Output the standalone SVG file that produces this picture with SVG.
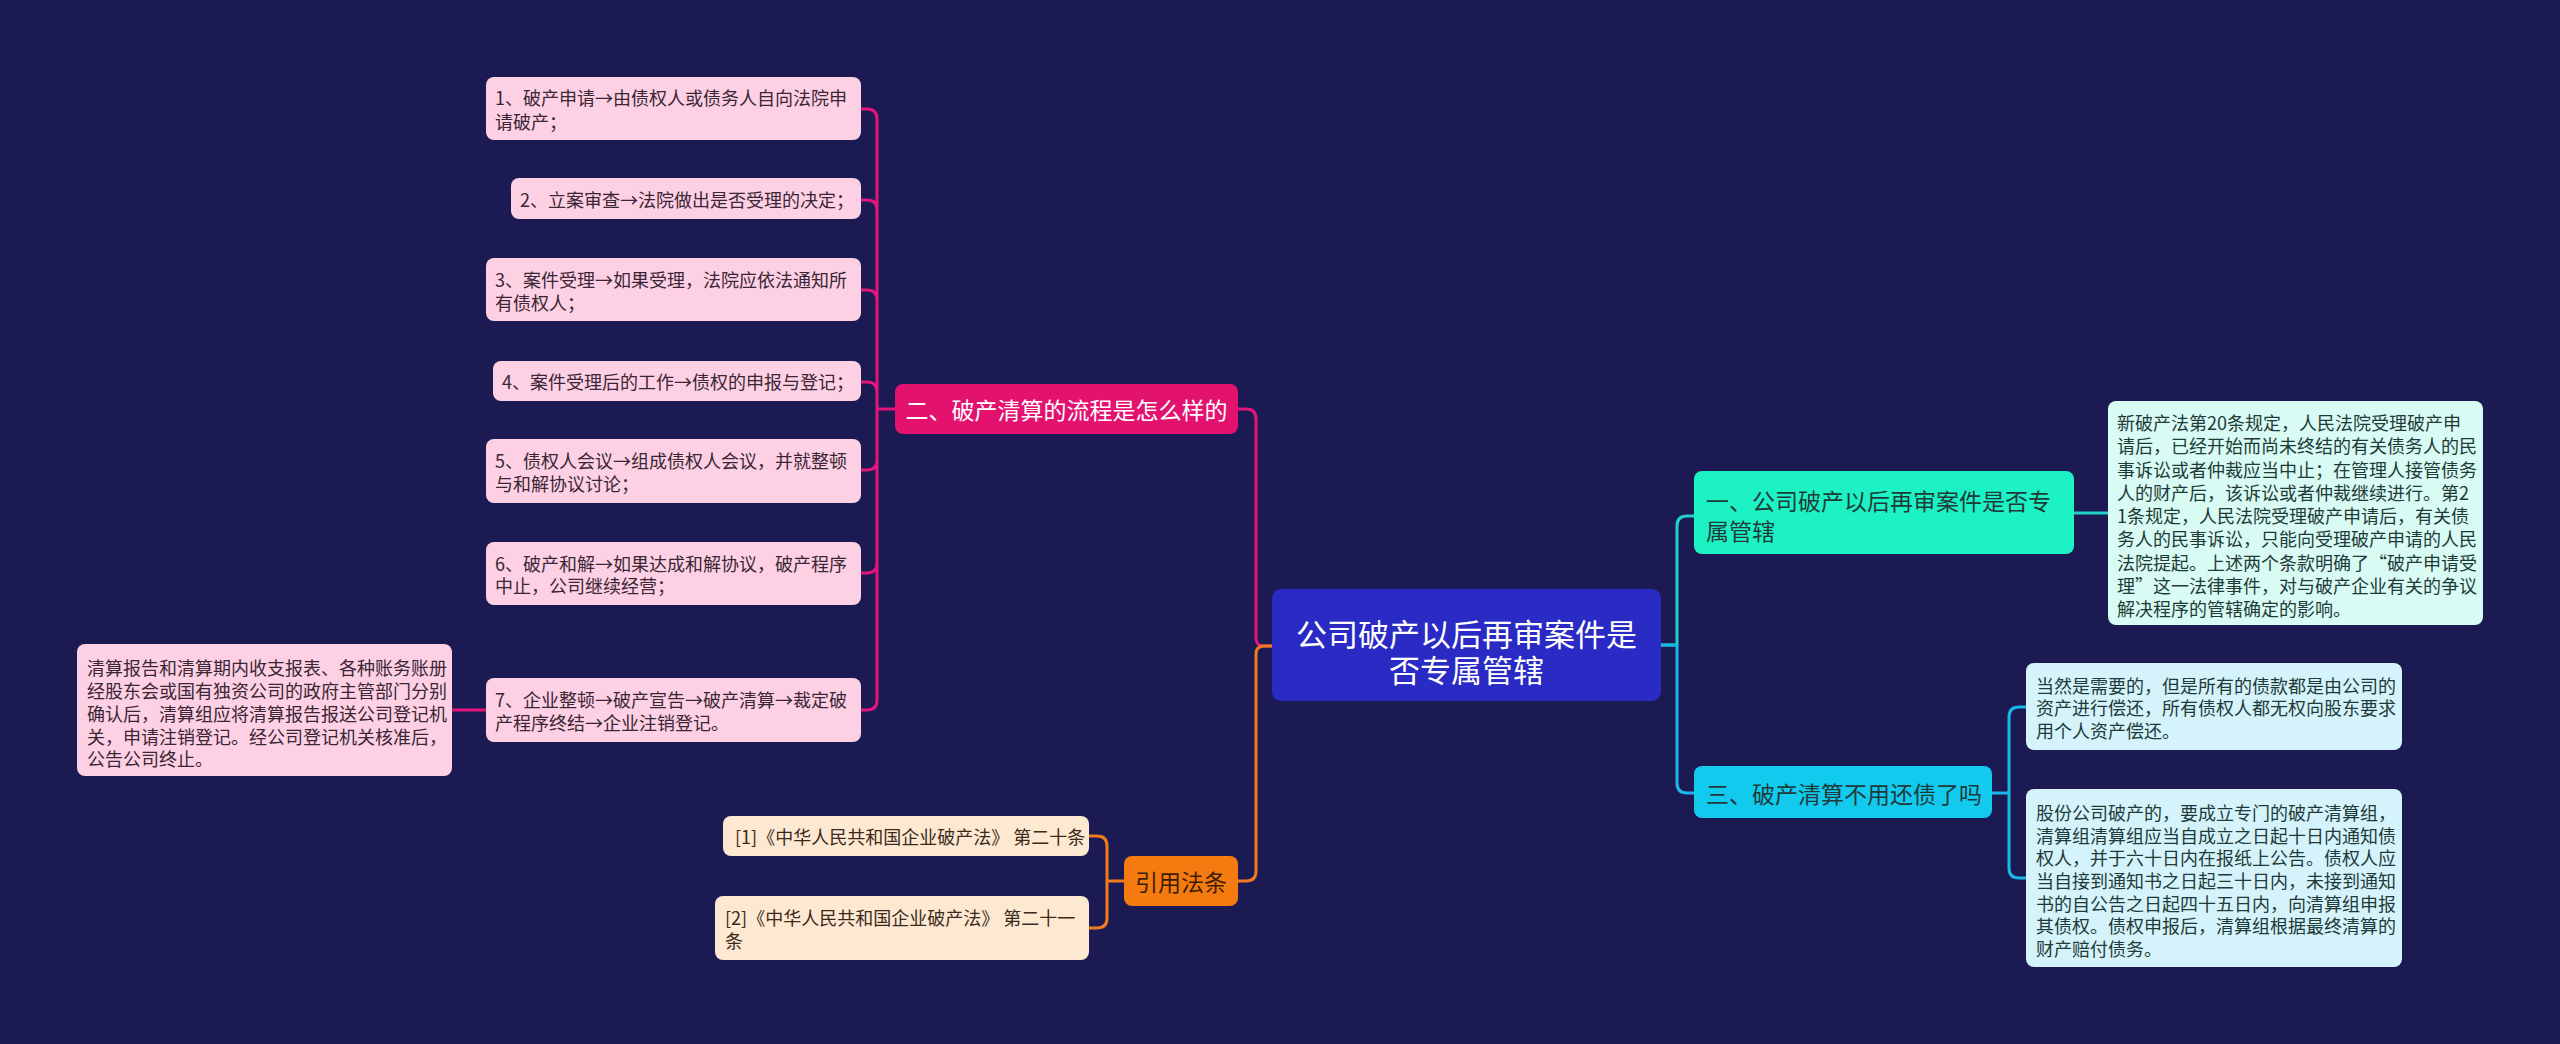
<svg xmlns="http://www.w3.org/2000/svg" width="2560" height="1044" viewBox="0 0 2560 1044">
<style>
text{font-family:"Noto Sans CJK SC","Noto Sans",sans-serif;dominant-baseline:central}
.s{font-size:18px}
.b{font-size:23px}
.lp{fill:#fdd0e4;stroke:none}
.lo{fill:#fde8d2}
.lc{fill:#d8fbf3}
.lb{fill:#d4f3fb}
.tp{fill:#3a2634}
.to{fill:#3b2a1a}
.tc{fill:#1f3a38}
.c{fill:none;stroke-width:3;stroke-linecap:round;stroke-linejoin:round}
</style>
<rect width="2560" height="1044" fill="#1b1a52"/>
<g id="connectors">
<path class="c" stroke="#e3157d" d="M1272,646 H1264 Q1256,646 1256,638 V419 Q1256,409 1246,409 H1238"/>
<path class="c" stroke="#f07b1e" d="M1272,646 H1264 Q1256,646 1256,654 V871 Q1256,881 1246,881 H1238"/>
<path class="c" stroke="#22d2c6" d="M1661,645 H1677 V526 Q1677,516 1687,516 H1694"/>
<path class="c" stroke="#1bb7e8" d="M1661,645 H1677 V783 Q1677,793 1687,793 H1694"/>
<path class="c" stroke="#e3157d" d="M895,409 H877 M877,409 V119 Q877,109 867,109 H861 M877,409 V210 Q877,200 867,200 H861 M877,409 V300 Q877,290 867,290 H861 M877,409 V392 Q877,382 867,382 H861 M877,409 V460 Q877,470 867,470 H861 M877,409 V563 Q877,573 867,573 H861 M877,409 V700 Q877,710 867,710 H861"/>
<path class="c" stroke="#e3157d" d="M486,710 H452"/>
<path class="c" stroke="#f07b1e" d="M1124,881 H1107 M1107,881 V846 Q1107,836 1097,836 H1089 M1107,881 V918 Q1107,928 1097,928 H1089"/>
<path class="c" stroke="#22d2c6" d="M2074,513 H2108"/>
<path class="c" stroke="#1bb7e8" d="M1992,793 H2009 M2009,793 V717 Q2009,707 2019,707 H2026 M2009,793 V868 Q2009,878 2019,878 H2026"/>
</g>
<g id="center">
<rect x="1272" y="589" width="389" height="112" rx="9" fill="#2a2ac4"/>
<text x="1466.5" y="632" font-size="31" fill="#ffffff" text-anchor="middle">公司破产以后再审案件是</text>
<text x="1466.5" y="668" font-size="31" fill="#ffffff" text-anchor="middle">否专属管辖</text>
</g>
<g id="branch-2">
<rect x="895" y="384" width="343" height="50" rx="8" fill="#e3126f"/>
<text class="b" x="1066.5" y="409" fill="#ffffff" text-anchor="middle">二、破产清算的流程是怎么样的</text>
</g>
<g id="leaf-p1">
<rect class="lp" x="486" y="77" width="375" height="63" rx="8"/>
<text class="s tp" x="495" y="97">1、破产申请→由债权人或债务人自向法院申</text>
<text class="s tp" x="495" y="121">请破产；</text>
</g>
<g id="leaf-p2">
<rect class="lp" x="511" y="178" width="350" height="41" rx="8"/>
<text class="s tp" x="520" y="199">2、立案审查→法院做出是否受理的决定；</text>
</g>
<g id="leaf-p3">
<rect class="lp" x="486" y="258" width="375" height="63" rx="8"/>
<text class="s tp" x="495" y="279">3、案件受理→如果受理，法院应依法通知所</text>
<text class="s tp" x="495" y="302">有债权人；</text>
</g>
<g id="leaf-p4">
<rect class="lp" x="493" y="361" width="368" height="40" rx="8"/>
<text class="s tp" x="502" y="381">4、案件受理后的工作→债权的申报与登记；</text>
</g>
<g id="leaf-p5">
<rect class="lp" x="486" y="439" width="375" height="64" rx="8"/>
<text class="s tp" x="495" y="460">5、债权人会议→组成债权人会议，并就整顿</text>
<text class="s tp" x="495" y="483">与和解协议讨论；</text>
</g>
<g id="leaf-p6">
<rect class="lp" x="486" y="542" width="375" height="63" rx="8"/>
<text class="s tp" x="495" y="563">6、破产和解→如果达成和解协议，破产程序</text>
<text class="s tp" x="495" y="585">中止，公司继续经营；</text>
</g>
<g id="leaf-p7">
<rect class="lp" x="486" y="678" width="375" height="64" rx="8"/>
<text class="s tp" x="495" y="699">7、企业整顿→破产宣告→破产清算→裁定破</text>
<text class="s tp" x="495" y="722">产程序终结→企业注销登记。</text>
</g>
<g id="leaf-p7-detail">
<rect class="lp" x="77" y="644" width="375" height="132" rx="8"/>
<text class="s tp" x="87" y="667">清算报告和清算期内收支报表、各种账务账册</text>
<text class="s tp" x="87" y="690">经股东会或国有独资公司的政府主管部门分别</text>
<text class="s tp" x="87" y="713">确认后，清算组应将清算报告报送公司登记机</text>
<text class="s tp" x="87" y="736">关，申请注销登记。经公司登记机关核准后，</text>
<text class="s tp" x="87" y="758">公告公司终止。</text>
</g>
<g id="branch-ref">
<rect x="1124" y="856" width="114" height="50" rx="8" fill="#f57a0f"/>
<text class="b" x="1181" y="881" fill="#3d1e05" text-anchor="middle">引用法条</text>
</g>
<g id="leaf-o1">
<rect class="lo" x="723" y="816" width="366" height="40" rx="8"/>
<text class="s to" x="735" y="836">[1]《中华人民共和国企业破产法》 第二十条</text>
</g>
<g id="leaf-o2">
<rect class="lo" x="715" y="896" width="374" height="64" rx="8"/>
<text class="s to" x="725" y="917">[2]《中华人民共和国企业破产法》 第二十一</text>
<text class="s to" x="725" y="940">条</text>
</g>
<g id="branch-1">
<rect x="1694" y="471" width="380" height="83" rx="8" fill="#1cf2c4"/>
<text class="b tc" x="1706" y="500">一、公司破产以后再审案件是否专</text>
<text class="b tc" x="1706" y="530">属管辖</text>
</g>
<g id="leaf-c1">
<rect class="lc" x="2108" y="401" width="375" height="224" rx="8"/>
<text class="s tc" x="2117" y="422">新破产法第20条规定，人民法院受理破产申</text>
<text class="s tc" x="2117" y="445">请后，已经开始而尚未终结的有关债务人的民</text>
<text class="s tc" x="2117" y="469">事诉讼或者仲裁应当中止；在管理人接管债务</text>
<text class="s tc" x="2117" y="492">人的财产后，该诉讼或者仲裁继续进行。第2</text>
<text class="s tc" x="2117" y="515">1条规定，人民法院受理破产申请后，有关债</text>
<text class="s tc" x="2117" y="538">务人的民事诉讼，只能向受理破产申请的人民</text>
<text class="s tc" x="2117" y="562">法院提起。上述两个条款明确了“破产申请受</text>
<text class="s tc" x="2117" y="585">理”这一法律事件，对与破产企业有关的争议</text>
<text class="s tc" x="2117" y="608">解决程序的管辖确定的影响。</text>
</g>
<g id="branch-3">
<rect x="1694" y="766" width="298" height="52" rx="8" fill="#12c9ee"/>
<text class="b tc" x="1706" y="793">三、破产清算不用还债了吗</text>
</g>
<g id="leaf-b1">
<rect class="lb" x="2026" y="663" width="376" height="87" rx="8"/>
<text class="s tc" x="2036" y="685">当然是需要的，但是所有的债款都是由公司的</text>
<text class="s tc" x="2036" y="707">资产进行偿还，所有债权人都无权向股东要求</text>
<text class="s tc" x="2036" y="730">用个人资产偿还。</text>
</g>
<g id="leaf-b2">
<rect class="lb" x="2026" y="789" width="376" height="178" rx="8"/>
<text class="s tc" x="2036" y="812">股份公司破产的，要成立专门的破产清算组，</text>
<text class="s tc" x="2036" y="835">清算组清算组应当自成立之日起十日内通知债</text>
<text class="s tc" x="2036" y="857">权人，并于六十日内在报纸上公告。债权人应</text>
<text class="s tc" x="2036" y="880">当自接到通知书之日起三十日内，未接到通知</text>
<text class="s tc" x="2036" y="903">书的自公告之日起四十五日内，向清算组申报</text>
<text class="s tc" x="2036" y="925">其债权。债权申报后，清算组根据最终清算的</text>
<text class="s tc" x="2036" y="948">财产赔付债务。</text>
</g>
</svg>
